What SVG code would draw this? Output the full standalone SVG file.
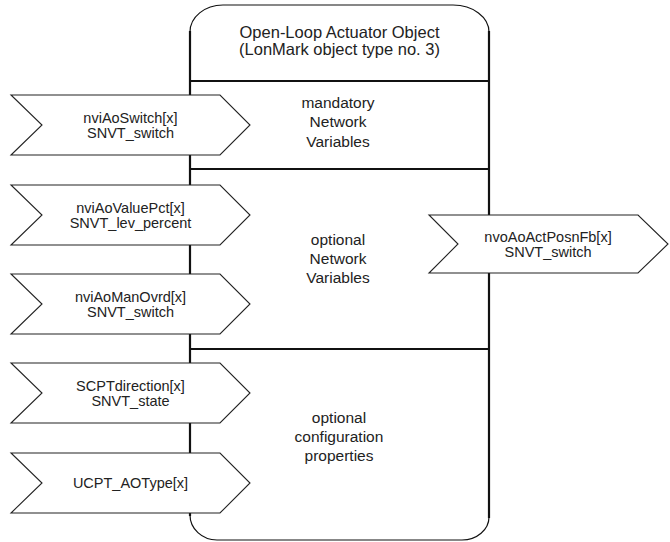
<svg xmlns="http://www.w3.org/2000/svg" width="670" height="542" viewBox="0 0 670 542">
<style>
.outline{fill:none;stroke:#111;stroke-width:1.2}
.edge{fill:none;stroke:#111;stroke-width:2.2}
.arrow{fill:#fff;stroke:#222;stroke-width:1.1}
text{font-family:"Liberation Sans",Arial,sans-serif;fill:#222;text-anchor:middle}
.t{font-size:16.5px}
.m{font-size:15.5px}
.a{font-size:14.5px}
</style>
<rect x="0" y="0" width="670" height="542" fill="#fff"/>
<g id="object">
<path class="outline" d="M190,32 A33,27 0 0 1 223,5 L453,5 A36,27 0 0 1 489,32 M489,517 A27,23 0 0 1 462,540 L217,540 A27,25 0 0 1 190,515"/>
<line class="edge" x1="190" y1="31" x2="190" y2="516"/>
<line class="edge" x1="489" y1="31" x2="489" y2="518"/>
<line class="edge" x1="190" y1="81" x2="489" y2="81"/>
<line class="edge" x1="190" y1="169" x2="489" y2="169"/>
<line class="edge" x1="190" y1="349" x2="489" y2="349"/>
<text class="t" x="339.5" y="38">Open-Loop Actuator Object</text>
<text class="t" x="339.5" y="55">(LonMark object type no. 3)</text>
</g>
<g id="sec-mandatory">
<text class="m" x="338" y="108">mandatory</text>
<text class="m" x="338" y="127">Network</text>
<text class="m" x="338" y="147">Variables</text>
</g>
<g id="sec-optional-nv">
<text class="m" x="338" y="245">optional</text>
<text class="m" x="338" y="264">Network</text>
<text class="m" x="338" y="283">Variables</text>
</g>
<g id="sec-optional-cp">
<text class="m" x="339" y="423">optional</text>
<text class="m" x="339" y="442">configuration</text>
<text class="m" x="339" y="461">properties</text>
</g>
<g id="nviAoSwitch">
<polygon class="arrow" points="11,95 220,95 250,125 220,155 11,155 42,125"/>
<text class="a" x="130.5" y="123">nviAoSwitch[x]</text>
<text class="a" x="130.5" y="138">SNVT_switch</text>
</g>
<g id="nviAoValuePct">
<polygon class="arrow" points="11,185 220,185 250,215 220,245 11,245 42,215"/>
<text class="a" x="130.5" y="213">nviAoValuePct[x]</text>
<text class="a" x="130.5" y="228">SNVT_lev_percent</text>
</g>
<g id="nviAoManOvrd">
<polygon class="arrow" points="11,274 220,274 250,304 220,334 11,334 42,304"/>
<text class="a" x="130.5" y="302">nviAoManOvrd[x]</text>
<text class="a" x="130.5" y="317">SNVT_switch</text>
</g>
<g id="SCPTdirection">
<polygon class="arrow" points="11,363 220,363 250,393 220,423 11,423 42,393"/>
<text class="a" x="130.5" y="391">SCPTdirection[x]</text>
<text class="a" x="130.5" y="406">SNVT_state</text>
</g>
<g id="UCPT_AOType">
<polygon class="arrow" points="11,453 220,453 250,483 220,513 11,513 42,483"/>
<text class="a" x="130.5" y="488">UCPT_AOType[x]</text>
</g>
<g id="nvoAoActPosnFb">
<polygon class="arrow" points="429,215 638,215 668,244 638,273 429,273 458,244"/>
<text class="a" x="548" y="242">nvoAoActPosnFb[x]</text>
<text class="a" x="548" y="257">SNVT_switch</text>
</g>
<g id="connectors"></g>
</svg>
